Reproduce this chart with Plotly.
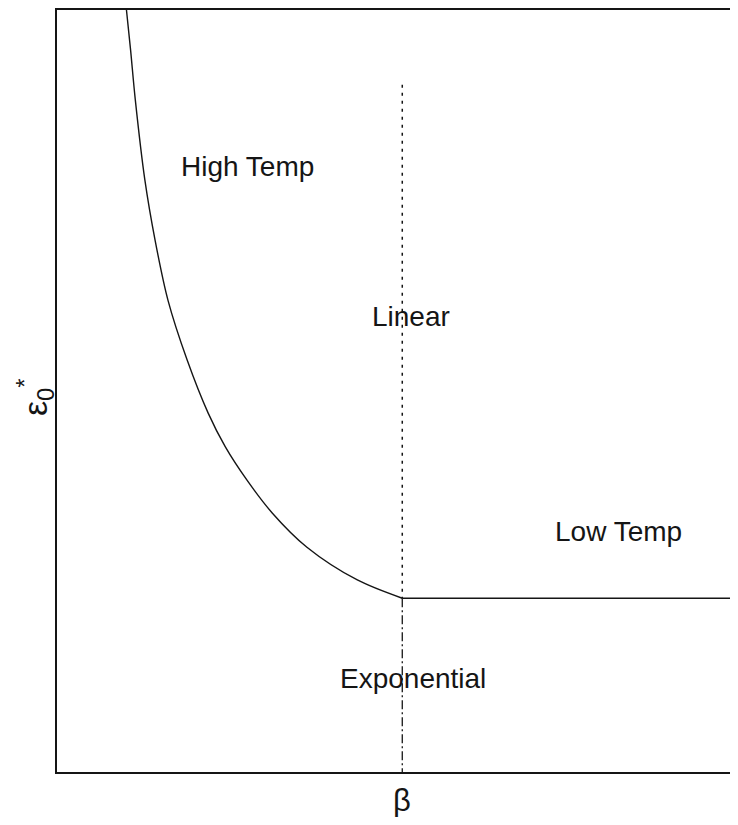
import plotly.graph_objects as go

# Phase boundary, arbitrary units
curve_x = [1.02, 1.08, 1.15, 1.29, 1.44, 1.63, 1.91, 2.22, 2.47, 2.79, 3.16, 3.67, 4.41, 5.07]
curve_y = [10.0, 9.48, 8.82, 7.77, 6.98, 6.19, 5.41, 4.71, 4.27, 3.83, 3.40, 2.95, 2.52, 2.28]
flat_x = [5.07, 10.0]
flat_y = [2.28, 2.28]
beta_x = 5.07
dotted_y = [9.02, 2.28]
dashdot_y = [2.28, 0.0]

region_labels = ["High Temp", "Linear", "Low Temp", "Exponential"]
region_x = [2.80, 5.20, 8.24, 5.23]
region_y = [7.95, 5.98, 3.15, 1.23]

ink = "#151515"
font_family = "Liberation Sans, Arial, Helvetica"
fig = go.Figure()
fig.add_trace(go.Scatter(x=curve_x, y=curve_y, mode="lines",
                         line=dict(color=ink, width=1.4, shape="spline", smoothing=0.9),
                         hoverinfo="skip"))
fig.add_trace(go.Scatter(x=flat_x, y=flat_y, mode="lines",
                         line=dict(color=ink, width=1.4), hoverinfo="skip"))
fig.add_trace(go.Scatter(x=[beta_x, beta_x], y=dotted_y, mode="lines",
                         line=dict(color=ink, width=1.5, dash="3px,5px"), hoverinfo="skip"))
fig.add_trace(go.Scatter(x=[beta_x, beta_x], y=dashdot_y, mode="lines",
                         line=dict(color=ink, width=1.3, dash="9px,3px,2px,3px"), hoverinfo="skip"))

for t, x, y in zip(region_labels, region_x, region_y):
    fig.add_annotation(x=x, y=y, text=t, showarrow=False, xanchor="center", yanchor="middle",
                       font=dict(family=font_family, size=28, color=ink))

fig.add_annotation(x=beta_x, y=0, yref="y", xref="x", yshift=-28, text="β", showarrow=False,
                   xanchor="center", yanchor="middle",
                   font=dict(family=font_family, size=31, color=ink))
fig.add_annotation(x=0, y=4.92, xref="paper", yref="y", xshift=-22, text="ε<sub>0</sub><sup>*</sup>",
                   showarrow=False, textangle=-90, xanchor="center", yanchor="middle",
                   font=dict(family=font_family, size=34, color=ink))

fig.update_layout(
    width=730, height=809,
    margin=dict(l=49, r=0, t=2, b=45),
    paper_bgcolor="white", plot_bgcolor="white",
    showlegend=False,
)
fig.update_xaxes(range=[0, 10], showgrid=False, zeroline=False, showticklabels=False,
                 ticks="", showline=True, linecolor=ink, linewidth=1.5, mirror=True)
fig.update_yaxes(range=[0, 10], showgrid=False, zeroline=False, showticklabels=False,
                 ticks="", showline=True, linecolor=ink, linewidth=1.5, mirror=False)

fig.write_html("out.html")
